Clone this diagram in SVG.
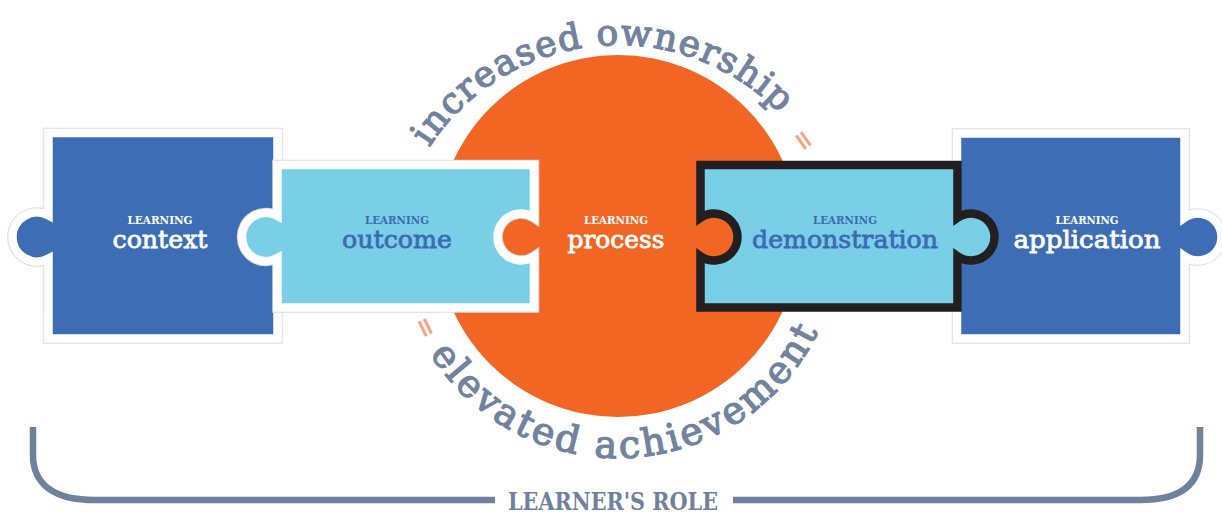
<svg xmlns="http://www.w3.org/2000/svg" width="1222" height="514" viewBox="0 0 1222 514">
<style>
  .edge { fill: none; stroke: #dcdcdc; stroke-width: 10.5; }
  .white-piece { stroke: #ffffff; stroke-width: 8.5; }
  .dark { fill: #3d6db5; }
  .light { fill: #79cfe6; }
  .lbl-small { font-family: 'DejaVu Serif', 'Liberation Serif', serif; font-size: 11px; font-weight: bold; text-anchor: middle; }
  .lbl-big { font-family: 'DejaVu Serif', 'Liberation Serif', serif; font-size: 25px; text-anchor: middle; stroke-width: 0.8; }
  .on-dark { fill: #ffffff; stroke: #ffffff; }
  .on-light { fill: #3d6bb3; stroke: #3d6bb3; }
  .lbl-small.on-dark, .lbl-small.on-light { stroke: none; }
  .arc { font-family: 'DejaVu Serif', 'Liberation Serif', serif; fill: #71839f; stroke: #71839f; stroke-width: 1.3; }
  .eq { font-family: 'DejaVu Serif', 'Liberation Serif', serif; font-size: 26px; font-weight: bold; fill: #f5a482; text-anchor: middle; dominant-baseline: central; }
</style>
<defs>
  <path id="topArc" d="M429.3,147.5 A225,225 0 0 1 779.9,113.7"/>
  <path id="botArc" d="M429.7,353.6 A222,222 0 0 0 819.2,329.8"/>
  <path id="pContext" d="M48.5,133 H277.5 V338.5 H48.5 V258.6 A24.5,24.5 0 1 1 48.5,215.4 Z"/>
  <path id="pOutcome" d="M277.5,165 H534 V217.42 A23.5,23.5 0 1 0 534,256.58 V307.5 H277.5 V258.07 A24,24 0 1 1 277.5,215.93 Z"/>
  <path id="pApplication" d="M957,133.5 H1184.5 V217.76 A23.5,23.5 0 1 1 1184.5,256.24 V338.5 H957 Z"/>
</defs>

<g id="process">
  <circle cx="618" cy="236" r="181" fill="#f26522"/>
  <text class="lbl-small on-dark" x="616" y="224" textLength="64" lengthAdjust="spacingAndGlyphs">LEARNING</text>
  <text class="lbl-big on-dark" x="616" y="248" textLength="97" lengthAdjust="spacingAndGlyphs">process</text>
</g>

<g id="arc-labels">
  <text class="arc" font-size="36"><textPath href="#topArc" textLength="404" lengthAdjust="spacing">increased ownership</textPath></text>
  <text class="arc" font-size="38"><textPath href="#botArc" textLength="474" lengthAdjust="spacing">elevated achievement</textPath></text>
  <text class="eq" x="0" y="0" transform="translate(804,140) rotate(55)">=</text>
  <text class="eq" x="0" y="0" transform="translate(426,327) rotate(64)">=</text>
</g>

<g id="context">
  <use href="#pContext" class="edge"/>
  <use href="#pContext" class="white-piece dark"/>
  <text class="lbl-small on-dark" x="160" y="224" textLength="65" lengthAdjust="spacingAndGlyphs">LEARNING</text>
  <text class="lbl-big on-dark" x="160" y="248" textLength="95" lengthAdjust="spacingAndGlyphs">context</text>
</g>

<g id="application">
  <use href="#pApplication" class="edge"/>
  <use href="#pApplication" class="white-piece dark"/>
  <text class="lbl-small on-dark" x="1087" y="224" textLength="63" lengthAdjust="spacingAndGlyphs">LEARNING</text>
  <text class="lbl-big on-dark" x="1087" y="248" textLength="147" lengthAdjust="spacingAndGlyphs">application</text>
</g>

<g id="outcome">
  <use href="#pOutcome" class="edge"/>
  <use href="#pOutcome" class="white-piece light"/>
  <text class="lbl-small on-light" x="397" y="224" textLength="64" lengthAdjust="spacingAndGlyphs">LEARNING</text>
  <text class="lbl-big on-light" x="397" y="248" textLength="110" lengthAdjust="spacingAndGlyphs">outcome</text>
</g>

<g id="demonstration">
  <path class="light" stroke="#231f20" stroke-width="8.5" d="M700.5,165 H957.5 V217.76 A23.5,23.5 0 1 1 957.5,256.24 V307.5 H700.5 V256.24 A23.5,23.5 0 1 0 700.5,217.76 Z"/>
  <text class="lbl-small on-light" x="845" y="224" textLength="64" lengthAdjust="spacingAndGlyphs">LEARNING</text>
  <text class="lbl-big on-light" x="845" y="248" textLength="186" lengthAdjust="spacingAndGlyphs">demonstration</text>
</g>

<g id="learners-role">
  <path d="M33,427 V455 C33,485 55,500 95,500 H495 M733,500 H1140 C1180,500 1200,485 1200,455 V427" fill="none" stroke="#70819e" stroke-width="6.5"/>
  <text x="613" y="510" font-family="'DejaVu Serif', 'Liberation Serif', serif" font-size="25" font-weight="bold" fill="#70819e" text-anchor="middle" textLength="210" lengthAdjust="spacingAndGlyphs">LEARNER'S ROLE</text>
</g>
</svg>
